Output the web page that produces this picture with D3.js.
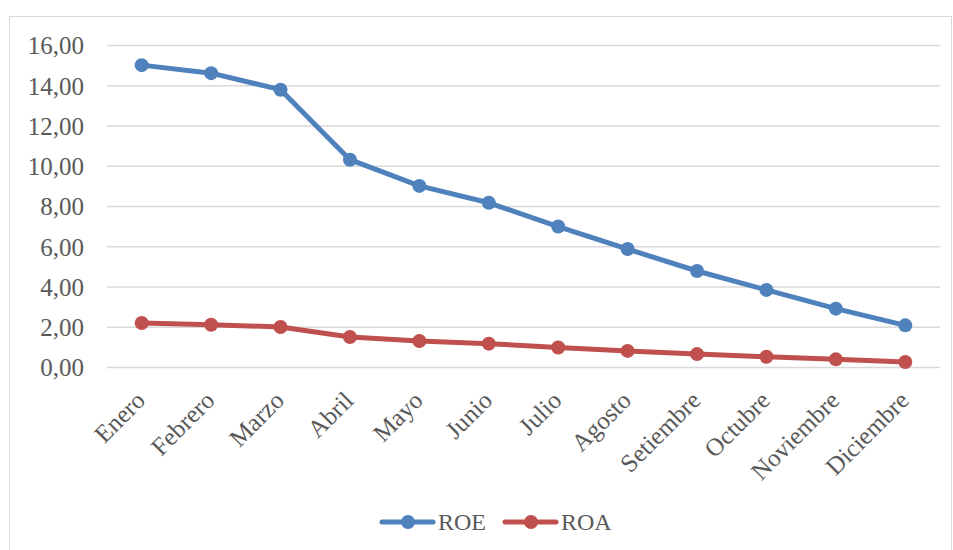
<!DOCTYPE html>
<html>
<head>
<meta charset="utf-8">
<script src="https://cdn.jsdelivr.net/npm/d3@7"></script>
<style>
  body { margin: 0; background: #fff; }
  text { font-family: "Liberation Serif", "DejaVu Serif", serif; fill: #595959; }
</style>
</head>
<body>
<div id="chart"></div>
<script>
// data
var months = ["Enero", "Febrero", "Marzo", "Abril", "Mayo", "Junio", "Julio",
              "Agosto", "Setiembre", "Octubre", "Noviembre", "Diciembre"];
var roe = [15.00, 14.60, 13.78, 10.30, 9.00, 8.16, 6.98, 5.86, 4.77, 3.83, 2.90, 2.07];
var roa = [2.19, 2.10, 1.99, 1.49, 1.29, 1.16, 0.97, 0.80, 0.64, 0.51, 0.38, 0.25];
var yTicks = [0, 2, 4, 6, 8, 10, 12, 14, 16];
var seriesNames = ["ROE", "ROA"];
var seriesColors = ["#4F81BD", "#C0504D"];

var W = 953, H = 550;
var plot = { left: 107, right: 940, top: 45, bottom: 367 };

var svg = d3.select("#chart").append("svg")
    .attr("width", W)
    .attr("height", H);

// outer chart border
svg.append("rect")
    .attr("x", 9.5).attr("y", 16.5)
    .attr("width", 942).attr("height", 545)
    .attr("fill", "#fff")
    .attr("stroke", "#D9D9D9")
    .attr("stroke-width", 1);

var x = d3.scaleBand()
    .domain(months)
    .range([plot.left, plot.right]);

var y = d3.scaleLinear()
    .domain([0, 16])
    .range([plot.bottom, plot.top]);

var fmt = function(d) { return d3.format(".2f")(d).replace(".", ","); };

// gridlines + y labels
var yAxis = svg.append("g")
    .attr("transform", "translate(" + plot.left + ",0)")
    .call(d3.axisLeft(y).tickValues(yTicks).tickSize(-(plot.right - plot.left)).tickPadding(23).tickFormat(fmt));
yAxis.select(".domain").remove();
yAxis.selectAll(".tick line").attr("stroke", "#D9D9D9").attr("stroke-width", 1.5);
yAxis.selectAll(".tick text")
    .attr("font-size", 25)
    .attr("dy", "0.35em");

// x labels, rotated
var xAxis = svg.append("g")
    .attr("transform", "translate(0," + plot.bottom + ")")
    .call(d3.axisBottom(x).tickSize(0).tickPadding(0));
xAxis.select(".domain").remove();
xAxis.selectAll(".tick text")
    .attr("font-size", 25)
    .attr("text-anchor", "end")
    .attr("x", 0).attr("y", 0).attr("dy", null)
    .attr("transform", "translate(5,35) rotate(-45)");

// series
var allSeries = [roe, roa];
var line = d3.line()
    .x(function(d, i) { return x(months[i]) + x.bandwidth() / 2; })
    .y(function(d) { return y(d); });

allSeries.forEach(function(vals, k) {
    var g = svg.append("g");
    g.append("path")
        .datum(vals)
        .attr("d", line)
        .attr("fill", "none")
        .attr("stroke", seriesColors[k])
        .attr("stroke-width", 5)
        .attr("stroke-linejoin", "round")
        .attr("stroke-linecap", "round");
    g.selectAll("circle")
        .data(vals)
        .enter().append("circle")
        .attr("cx", function(d, i) { return x(months[i]) + x.bandwidth() / 2; })
        .attr("cy", function(d) { return y(d); })
        .attr("r", 7)
        .attr("fill", seriesColors[k]);
});

// legend
var legend = svg.append("g").attr("transform", "translate(380,522)");
seriesNames.forEach(function(name, k) {
    var lg = legend.append("g").attr("transform", "translate(" + (k * 123) + ",0)");
    lg.append("line")
        .attr("x1", 2).attr("x2", 53)
        .attr("stroke", seriesColors[k])
        .attr("stroke-width", 5)
        .attr("stroke-linecap", "round");
    lg.append("circle").attr("cx", 28).attr("r", 7).attr("fill", seriesColors[k]);
    lg.append("text")
        .attr("x", 58).attr("dy", "0.35em")
        .attr("font-size", 24)
        .text(name);
});
</script>
</body>
</html>
